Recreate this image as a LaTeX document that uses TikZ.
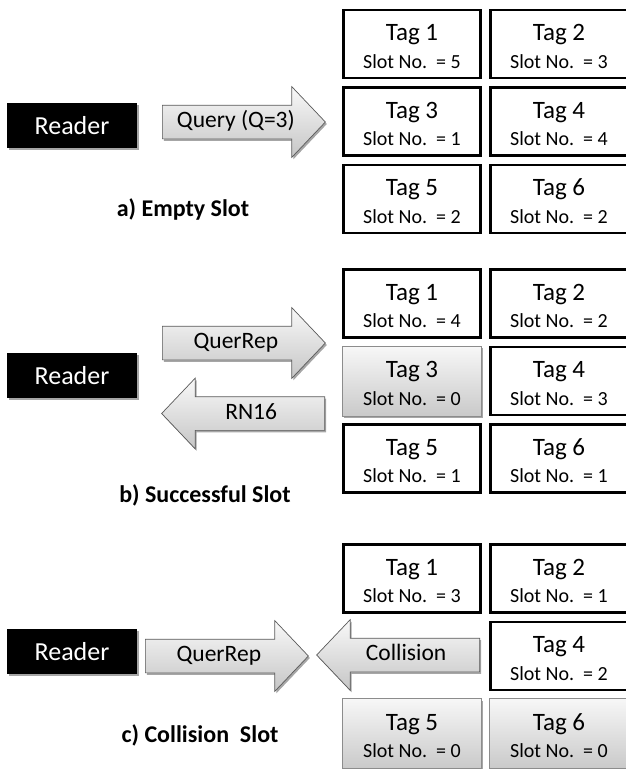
\documentclass[tikz,border=0pt]{standalone}
\usepackage{fontspec}
\setmainfont{Carlito}
\usetikzlibrary{shapes.arrows, shadows, positioning}
\definecolor{msgEdge}{HTML}{5A5A5A}
\definecolor{selEdge}{HTML}{8C8C8C}
\tikzset{
  softshadow/.style = {drop shadow={shadow xshift=1.5pt, shadow yshift=-2pt,
                       opacity=0.35, fill=black}},
  reader/.style  = {fill=black, text=white, minimum width=130pt, minimum height=45pt,
                    inner sep=0pt, font=\fontsize{26}{30}\selectfont, softshadow},
  tagbox/.style  = {draw=black, line width=2.8pt, fill=white, minimum width=137pt,
                    minimum height=68pt, inner sep=0pt, align=center},
  tagsel/.style  = {tagbox, draw=selEdge, line width=0.7pt, top color=gray!6,
                    bottom color=gray!42, minimum width=139pt, minimum height=70pt,
                    softshadow},
  msg/.style     = {single arrow, draw=msgEdge, line width=0.7pt, top color=gray!5,
                    bottom color=gray!45, single arrow head extend=18.5pt,
                    single arrow tip angle=93, minimum height=163pt,
                    text height=16pt, text depth=5pt, inner ysep=6pt,
                    font=\fontsize{23.5}{27}\selectfont, softshadow, anchor=tail},
  msgback/.style = {msg, shape border rotate=180},
  slotlbl/.style = {font=\bfseries\fontsize{24}{28}\selectfont},
}
\newcommand{\tagtext}[2]{{\fontsize{25}{27}\selectfont\rule{0pt}{21pt}Tag #1}\\[8pt]%
  {\fontsize{20}{22}\selectfont Slot No.\ \ = #2}}

\begin{document}
\begin{tikzpicture}[x=1pt, y=-1pt]
\useasboundingbox (0,0) rectangle (625,769);

% ---- (a) empty slot ------------------------------------------------------
\begin{scope}
  \foreach \n/\slot/\sty in {1/5/tagbox, 2/3/tagbox, 3/1/tagbox,
                             4/4/tagbox, 5/2/tagbox, 6/2/tagbox} {
    \pgfmathtruncatemacro{\col}{mod(\n-1,2)}
    \pgfmathtruncatemacro{\row}{(\n-1)/2}
    \node[\sty] (a\n) at (412+147*\col, 44+77.5*\row) {\tagtext{\n}{\slot}};
  }
  \node[reader] (ra) at (72,125.5) {Reader};
  \node[msg] (qa) at (162,122) {Query (Q=3)};
  \node[slotlbl] (la) at (183,209) {a) Empty Slot};
\end{scope}

% ---- (b) successful slot -------------------------------------------------
\begin{scope}[shift={(0,259.5)}]
  \foreach \n/\slot/\sty in {1/4/tagbox, 2/2/tagbox, 3/0/tagsel,
                             4/3/tagbox, 5/1/tagbox, 6/1/tagbox} {
    \pgfmathtruncatemacro{\col}{mod(\n-1,2)}
    \pgfmathtruncatemacro{\row}{(\n-1)/2}
    \node[\sty] (b\n) at (412+147*\col, 44+77.5*\row) {\tagtext{\n}{\slot}};
  }
  \node[reader] (rb) at (72,116) {Reader};
  \node[msg] (qb) at (162,83.5) {QuerRep};
  \node[msgback] (nb) at (325,154) {RN16};
  \node[slotlbl] (lb) at (205,235.5) {b) Successful Slot};
\end{scope}

% ---- (c) collision slot --------------------------------------------------
\begin{scope}[shift={(0,534.5)}]
  \foreach \n/\slot/\sty in {1/3/tagbox, 2/1/tagbox, 4/2/tagbox,
                             5/0/tagsel, 6/0/tagsel} {
    \pgfmathtruncatemacro{\col}{mod(\n-1,2)}
    \pgfmathtruncatemacro{\row}{(\n-1)/2}
    \node[\sty] (c\n) at (412+147*\col, 44+77.5*\row) {\tagtext{\n}{\slot}};
  }
  \node[reader] (rc) at (72,117) {Reader};
  \node[msg] (qc) at (145,121.5) {QuerRep};
  \node[msgback] (cc) at (480,120.5) {Collision};
  \node[slotlbl] (lc) at (200,200.5) {c) Collision\ \ Slot};
\end{scope}

\end{tikzpicture}
\end{document}
